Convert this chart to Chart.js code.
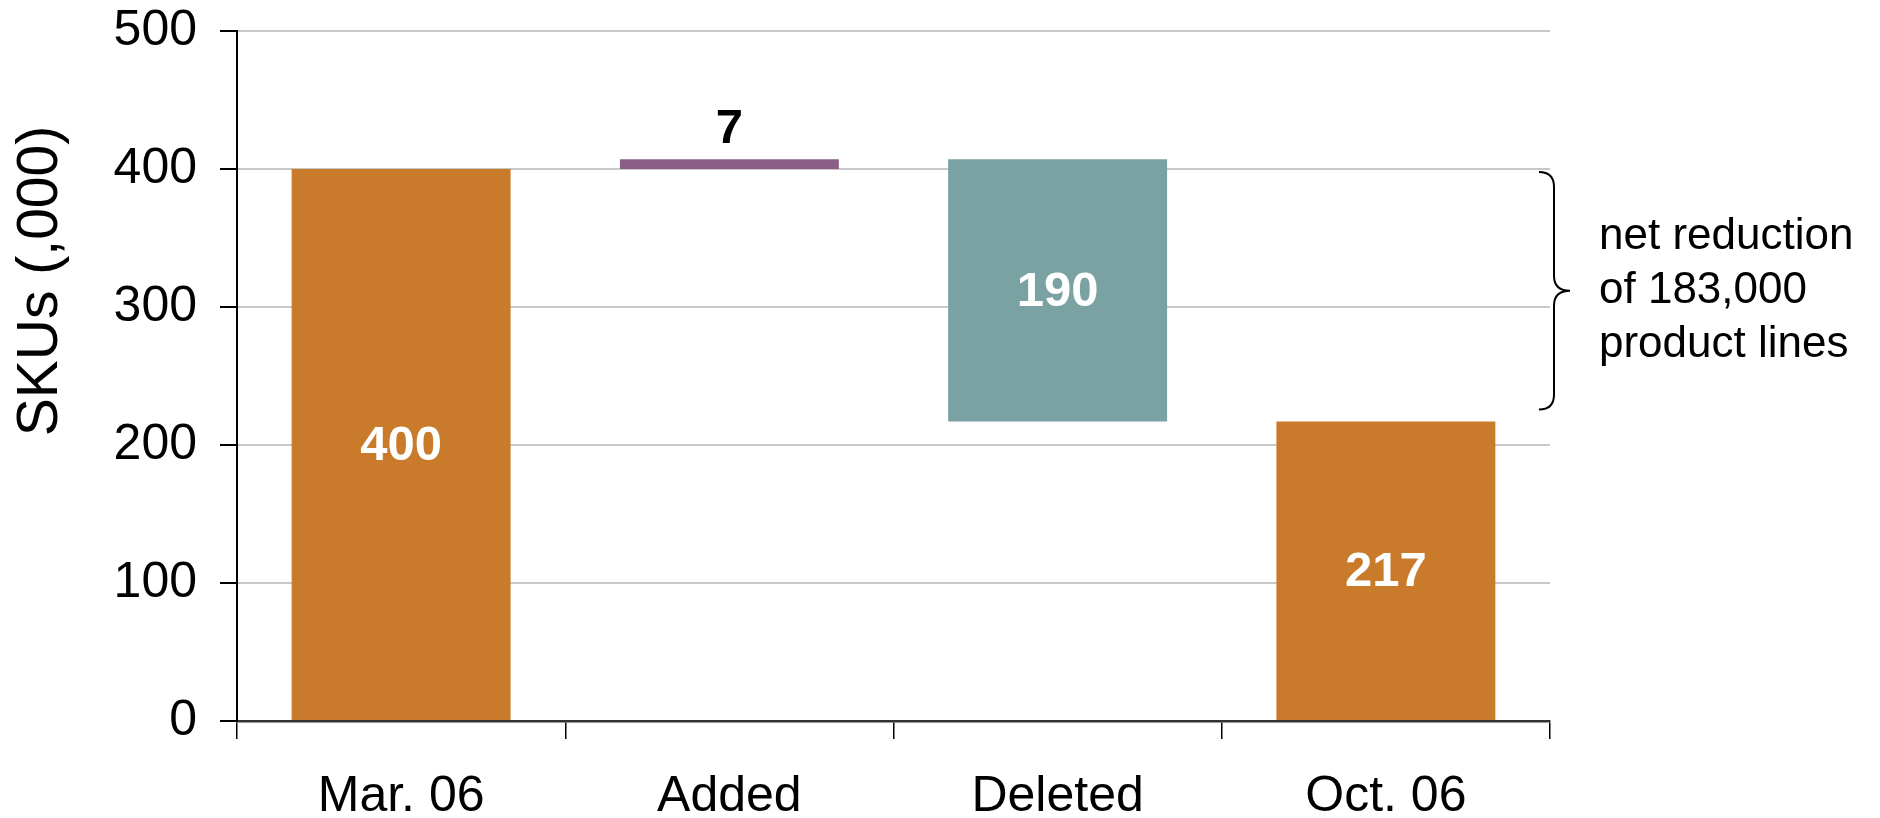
<!DOCTYPE html>
<html>
<head>
<meta charset="utf-8">
<title>SKUs waterfall</title>
<script src="https://cdn.jsdelivr.net/npm/chart.js@4/dist/chart.umd.min.js"></script>
<style>
  html, body { margin: 0; padding: 0; background: #fff; }
  #wrap { width: 1880px; height: 818px; }
</style>
</head>
<body>
<div id="wrap"><canvas id="skuChart" width="1880" height="818"></canvas></div>
<script>
const categories = ["Mar. 06", "Added", "Deleted", "Oct. 06"];
const amounts = [400, 7, 190, 217];
const kinds = ["total", "increase", "decrease", "total"];
const barColors = ["#C97A2A", "#8A5F87", "#7AA2A2", "#C97A2A"];
const yTicks = [0, 100, 200, 300, 400, 500];
const axisTitle = "SKUs (,000)";
const noteLines = ["net reduction", "of 183,000", "product lines"];

const FONT = "'Liberation Sans', Arial, Helvetica, sans-serif";
Chart.defaults.font.family = FONT;
Chart.defaults.color = "#000";

// turn the step amounts into floating [from, to] ranges
let running = 0;
const ranges = amounts.map((amt, i) => {
  if (kinds[i] === "total") {
    running = amt;
    return [0, amt];
  }
  if (kinds[i] === "increase") {
    const r = [running, running + amt];
    running += amt;
    return r;
  }
  const r = [running - amt, running];
  running -= amt;
  return r;
});

// value labels: inside the bar in white, or above it for the thin "added" bar
const valueLabels = {
  id: "valueLabels",
  afterDatasetsDraw(chart) {
    const ctx = chart.ctx;
    const meta = chart.getDatasetMeta(0);
    ctx.save();
    ctx.font = "bold 49px " + FONT;
    ctx.textAlign = "center";
    meta.data.forEach((bar, i) => {
      const top = Math.min(bar.y, bar.base);
      const bottom = Math.max(bar.y, bar.base);
      if (kinds[i] === "increase") {
        ctx.fillStyle = "#000";
        ctx.textBaseline = "alphabetic";
        ctx.fillText(String(amounts[i]), bar.x, top - 16);
      } else {
        ctx.fillStyle = "#fff";
        ctx.textBaseline = "middle";
        ctx.fillText(String(amounts[i]), bar.x, (top + bottom) / 2 + 2);
      }
    });
    ctx.restore();
  },
};

// rotated y-axis title
const yTitle = {
  id: "yTitle",
  afterDraw(chart) {
    const ctx = chart.ctx;
    const area = chart.chartArea;
    ctx.save();
    ctx.translate(57, (area.top + area.bottom) / 2 - 95);
    ctx.rotate(-Math.PI / 2);
    ctx.font = "57px " + FONT;
    ctx.fillStyle = "#000";
    ctx.textAlign = "center";
    ctx.textBaseline = "alphabetic";
    ctx.fillText(axisTitle, 0, 0);
    ctx.restore();
  },
};

// curly brace between the opening and closing totals, with its note
const netBrace = {
  id: "netBrace",
  afterDraw(chart) {
    const ctx = chart.ctx;
    const y = chart.scales.y;
    const right = chart.chartArea.right;
    const top = y.getPixelForValue(amounts[0]) + 3;
    const bottom = y.getPixelForValue(amounts[amounts.length - 1]) - 12;
    const mid = (top + bottom) / 2;
    const x0 = right - 11;
    const x1 = right + 4;
    const xt = right + 20;
    const r = 15;

    ctx.save();
    ctx.strokeStyle = "#000";
    ctx.lineWidth = 2;
    ctx.beginPath();
    ctx.moveTo(x0, top);
    ctx.quadraticCurveTo(x1, top, x1, top + r);
    ctx.lineTo(x1, mid - r);
    ctx.quadraticCurveTo(x1, mid, xt, mid);
    ctx.quadraticCurveTo(x1, mid, x1, mid + r);
    ctx.lineTo(x1, bottom - r);
    ctx.quadraticCurveTo(x1, bottom, x0, bottom);
    ctx.stroke();

    ctx.font = "44px " + FONT;
    ctx.fillStyle = "#000";
    ctx.textAlign = "left";
    ctx.textBaseline = "middle";
    noteLines.forEach((line, i) => {
      ctx.fillText(line, right + 49, mid + (i - 1) * 54);
    });
    ctx.restore();
  },
};

new Chart(document.getElementById("skuChart"), {
  type: "bar",
  data: {
    labels: categories,
    datasets: [
      {
        data: ranges,
        backgroundColor: barColors,
        borderWidth: 0,
        barPercentage: 0.667,
        categoryPercentage: 1,
      },
    ],
  },
  options: {
    responsive: false,
    animation: false,
    layout: { padding: { left: 0, right: 330, top: 31, bottom: 0 } },
    plugins: { legend: { display: false }, tooltip: { enabled: false } },
    scales: {
      x: {
        afterFit(scale) { scale.height = 97; },
        grid: {
          display: true,
          drawOnChartArea: false,
          drawTicks: true,
          tickLength: 18,
          tickColor: "#000",
          lineWidth: 1.5,
          offset: true,
        },
        border: { display: true, color: "#333", width: 2.5 },
        ticks: { font: { size: 50 }, color: "#000", padding: 28, maxRotation: 0 },
      },
      y: {
        min: 0,
        max: 500,
        afterFit(scale) {
          scale.width = 237;
          scale.paddingTop = 0;
          scale.paddingBottom = 0;
        },
        afterBuildTicks(scale) { scale.ticks = yTicks.map((v) => ({ value: v })); },
        grid: {
          color: "#c8c8c8",
          lineWidth: 2,
          tickLength: 17,
          tickColor: "#000",
        },
        border: { display: true, color: "#000", width: 2 },
        ticks: { font: { size: 50 }, color: "#000", padding: 23 },
      },
    },
  },
  plugins: [valueLabels, yTitle, netBrace],
});
</script>
</body>
</html>
